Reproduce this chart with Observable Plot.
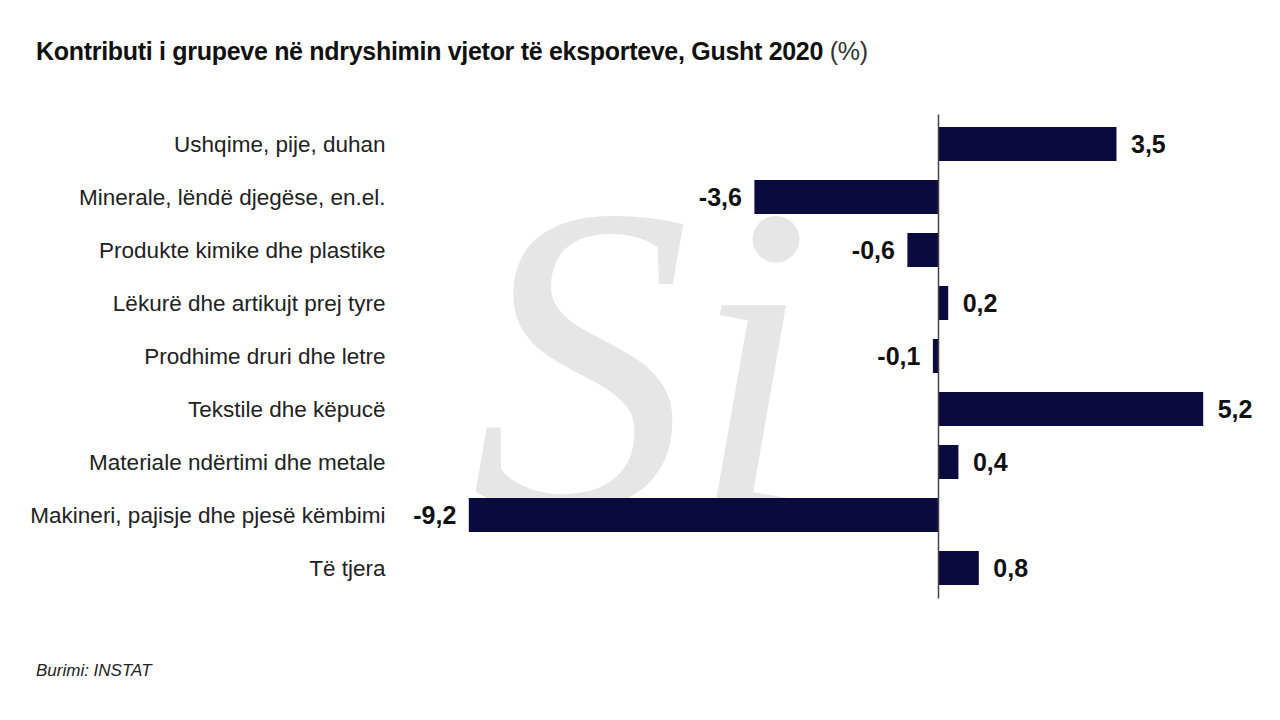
<!DOCTYPE html>
<html>
<head>
<meta charset="utf-8">
<script src="https://cdn.jsdelivr.net/npm/d3@7"></script>
<script src="https://cdn.jsdelivr.net/npm/@observablehq/plot@0.6"></script>
<style>
  html, body { margin: 0; padding: 0; background: #fff; width: 1280px; height: 720px; overflow: hidden; }
  body { font-family: "Liberation Sans", Arial, sans-serif; position: relative; }
  #title { position: absolute; left: 36px; top: 37px; font-size: 25px; font-weight: bold; color: #111; white-space: nowrap; letter-spacing: -0.3px; }
  #title span { font-weight: normal; color: #333; }
  #chart { position: absolute; left: 0; top: 100px; }
  #caption { position: absolute; left: 36px; top: 661px; font-size: 17px; font-style: italic; color: #222; }
</style>
</head>
<body>
<div id="title">Kontributi i grupeve në ndryshimin vjetor të eksporteve, Gusht 2020 <span>(%)</span></div>
<div id="chart"></div>
<div id="caption">Burimi: INSTAT</div>
<script>
const categories = [
  "Ushqime, pije, duhan",
  "Minerale, lëndë djegëse, en.el.",
  "Produkte kimike dhe plastike",
  "Lëkurë dhe artikujt prej tyre",
  "Prodhime druri dhe letre",
  "Tekstile dhe këpucë",
  "Materiale ndërtimi dhe metale",
  "Makineri, pajisje dhe pjesë këmbimi",
  "Të tjera"
];
const values = [3.5, -3.6, -0.6, 0.2, -0.1, 5.2, 0.4, -9.2, 0.8];

const data = categories.map((c, i) => ({ category: c, value: values[i] }));
const fmt = v => d3.format(".1f")(v).replace(".", ",").replace("−", "-");
const pos = data.filter(d => d.value >= 0);
const neg = data.filter(d => d.value < 0);

const chart = Plot.plot({
  width: 1280,
  height: 520,
  marginLeft: 428,
  marginRight: 36,
  marginTop: 17.5,
  marginBottom: 25.5,
  style: { fontFamily: '"Liberation Sans", Arial, sans-serif', background: "transparent" },
  x: { domain: [-10, 6], axis: null },
  y: { domain: categories, paddingInner: 0.36, paddingOuter: 0.18, label: null, tickSize: 0, tickPadding: 43 },
  marks: [
    Plot.text(["Si"], {
      frameAnchor: "middle", dx: -195, dy: 10,
      fontSize: 440, fontFamily: '"Liberation Serif", "DejaVu Serif", serif', fontStyle: "italic",
      fill: "#e6e6e6"
    }),
    Plot.axisY({ tickSize: 0, tickPadding: 43, fontSize: 22.5, fill: "#222", label: null }),
    Plot.barX(data, { x: "value", y: "category", fill: "#0b0a3e" }),
    Plot.ruleX([0], { stroke: "#444", strokeWidth: 1.5, insetTop: -3, insetBottom: -4 }),
    Plot.text(pos, { x: "value", y: "category", text: d => fmt(d.value), textAnchor: "start", dx: 14, fontSize: 25, fontWeight: "bold", fill: "#111" }),
    Plot.text(neg, { x: "value", y: "category", text: d => fmt(d.value), textAnchor: "end", dx: -13, fontSize: 25, fontWeight: "bold", fill: "#111" })
  ]
});
document.getElementById("chart").appendChild(chart);
</script>
</body>
</html>
